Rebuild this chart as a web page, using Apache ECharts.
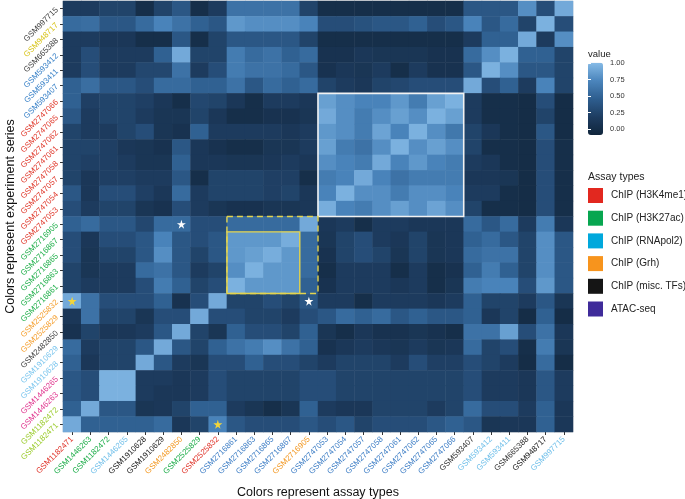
<!DOCTYPE html>
<html>
<head>
<meta charset="utf-8">
<script src="https://cdn.jsdelivr.net/npm/echarts@6/dist/echarts.min.js"></script>
<style>
html,body{margin:0;padding:0;background:#fff;}
#chart{width:685px;height:499px;}
</style>
</head>
<body>
<div id="chart"></div>
<script>
// ---------------- data ----------------
const xLabels = ['GSM1182471','GSM1446263','GSM1182472','GSM1446265','GSM1910628','GSM1910629','GSM2482850','GSM2525829','GSM2525832','GSM2716861','GSM2716863','GSM2716865','GSM2716867','GSM2716905','GSM2747053','GSM2747054','GSM2747057','GSM2747058','GSM2747061','GSM2747062','GSM2747065','GSM2747066','GSM593407','GSM593412','GSM593411','GSM665388','GSM948717','GSM997715'];
// rows listed from top to bottom
const yLabels = ['GSM997715','GSM948717','GSM665388','GSM593412','GSM593411','GSM593407','GSM2747066','GSM2747065','GSM2747062','GSM2747061','GSM2747058','GSM2747057','GSM2747054','GSM2747053','GSM2716905','GSM2716867','GSM2716865','GSM2716863','GSM2716861','GSM2525832','GSM2525829','GSM2482850','GSM1910629','GSM1910628','GSM1446265','GSM1446263','GSM1182472','GSM1182471'];

// label colour groups
const xLabelColors = ['#e0352b','#1fae4b','#1fae4b','#72c0ea','#222222','#222222','#f39a26','#1fae4b','#e0352b','#3f7fc6','#3f7fc6','#3f7fc6','#3f7fc6','#f39a26','#3f7fc6','#3f7fc6','#3f7fc6','#3f7fc6','#3f7fc6','#3f7fc6','#3f7fc6','#3f7fc6','#333333','#72c0ea','#72c0ea','#333333','#222222','#72c0ea'];
const yLabelColors = ['#444444','#d8c41c','#444444','#3a82c8','#3a82c8','#3a82c8','#e0392c','#e0392c','#e0392c','#e0392c','#e0392c','#e0392c','#e0392c','#e0392c','#22b04c','#22b04c','#22b04c','#22b04c','#22b04c','#f5a031','#f5a031','#444444','#7cc6ee','#7cc6ee','#e0358e','#e0358e','#9ccc2e','#9ccc2e'];

// matrix values, one row per yLabel (top to bottom), one column per xLabel
const row00 = [0.16,0.16,0.24,0.24,0.02,0.24,0.40,0.02,0.16,0.60,0.60,0.60,0.60,0.24,0.02,0.02,0.02,0.02,0.02,0.02,0.02,0.02,0.40,0.40,0.40,0.78,0.32,0.92];
const row01 = [0.55,0.57,0.40,0.40,0.55,0.72,0.60,0.48,0.40,0.83,0.78,0.78,0.78,0.72,0.32,0.32,0.36,0.40,0.40,0.48,0.32,0.40,0.72,0.40,0.55,0.24,0.96,0.32];
const row02 = [0.16,0.16,0.12,0.12,0.02,0.02,0.40,0.02,0.24,0.40,0.40,0.40,0.40,0.24,0.02,0.02,0.02,0.02,0.02,0.02,0.02,0.02,0.16,0.48,0.48,0.92,0.16,0.78];
const row03 = [0.16,0.32,0.16,0.16,0.16,0.48,0.92,0.24,0.24,0.67,0.55,0.60,0.48,0.55,0.06,0.06,0.12,0.10,0.10,0.10,0.06,0.06,0.55,0.78,0.96,0.48,0.48,0.24];
const row04 = [0.16,0.32,0.16,0.16,0.27,0.27,0.60,0.16,0.32,0.67,0.60,0.60,0.55,0.40,0.06,0.12,0.10,0.16,0.02,0.16,0.06,0.06,0.40,0.96,0.78,0.40,0.40,0.24];
const row05 = [0.48,0.57,0.40,0.40,0.32,0.55,0.55,0.48,0.48,0.60,0.40,0.55,0.48,0.55,0.24,0.16,0.12,0.24,0.27,0.32,0.32,0.32,0.92,0.32,0.48,0.16,0.72,0.24];
const row06 = [0.48,0.20,0.24,0.24,0.20,0.12,0.02,0.27,0.24,0.12,0.02,0.16,0.16,0.12,0.87,0.78,0.72,0.72,0.83,0.67,0.87,0.96,0.16,0.02,0.02,0.00,0.32,0.00];
const row07 = [0.40,0.16,0.24,0.24,0.16,0.10,0.10,0.24,0.12,0.02,0.02,0.06,0.06,0.10,0.92,0.78,0.67,0.78,0.87,0.78,0.96,0.87,0.16,0.02,0.02,0.00,0.24,0.00];
const row08 = [0.24,0.16,0.16,0.24,0.32,0.10,0.06,0.48,0.16,0.16,0.16,0.16,0.12,0.16,0.83,0.78,0.67,0.89,0.72,0.96,0.78,0.64,0.24,0.12,0.02,0.00,0.40,0.00];
const row09 = [0.24,0.24,0.20,0.12,0.10,0.06,0.40,0.12,0.06,0.02,0.02,0.10,0.10,0.16,0.87,0.67,0.60,0.78,0.96,0.78,0.87,0.78,0.24,0.02,0.02,0.00,0.32,0.02];
const row10 = [0.24,0.20,0.20,0.16,0.10,0.10,0.48,0.12,0.12,0.10,0.10,0.12,0.16,0.12,0.78,0.72,0.67,0.92,0.72,0.83,0.72,0.67,0.16,0.12,0.02,0.00,0.32,0.02];
const row11 = [0.24,0.12,0.20,0.20,0.16,0.16,0.40,0.02,0.24,0.24,0.24,0.20,0.20,0.02,0.67,0.72,0.92,0.72,0.60,0.67,0.67,0.67,0.12,0.12,0.10,0.00,0.32,0.02];
const row12 = [0.40,0.12,0.32,0.32,0.20,0.12,0.55,0.16,0.24,0.24,0.24,0.20,0.24,0.12,0.72,0.96,0.78,0.78,0.67,0.78,0.78,0.72,0.16,0.16,0.02,0.00,0.32,0.02];
const row13 = [0.32,0.16,0.24,0.24,0.10,0.06,0.32,0.16,0.10,0.06,0.06,0.10,0.10,0.12,0.94,0.72,0.67,0.78,0.87,0.78,0.89,0.78,0.24,0.02,0.02,0.00,0.32,0.02];
const row14 = [0.48,0.55,0.40,0.40,0.27,0.55,0.55,0.32,0.32,0.55,0.55,0.55,0.55,0.92,0.12,0.16,0.02,0.16,0.16,0.12,0.12,0.12,0.55,0.40,0.55,0.16,0.67,0.12];
const row15 = [0.32,0.12,0.32,0.32,0.40,0.72,0.40,0.32,0.40,0.83,0.83,0.83,0.94,0.55,0.10,0.24,0.32,0.16,0.12,0.24,0.10,0.12,0.48,0.55,0.40,0.24,0.78,0.40];
const row16 = [0.32,0.10,0.24,0.24,0.40,0.78,0.40,0.24,0.40,0.83,0.87,0.94,0.83,0.55,0.06,0.24,0.32,0.24,0.10,0.24,0.10,0.12,0.55,0.60,0.60,0.24,0.78,0.40];
const row17 = [0.24,0.10,0.16,0.16,0.55,0.60,0.40,0.16,0.24,0.78,0.96,0.83,0.83,0.55,0.02,0.16,0.16,0.16,0.02,0.16,0.02,0.06,0.48,0.67,0.48,0.24,0.78,0.40];
const row18 = [0.24,0.16,0.16,0.16,0.32,0.67,0.48,0.24,0.32,0.96,0.83,0.83,0.83,0.48,0.06,0.16,0.16,0.16,0.12,0.16,0.02,0.10,0.67,0.72,0.72,0.32,0.83,0.40];
const row19 = [0.92,0.60,0.32,0.32,0.32,0.48,0.06,0.32,0.92,0.24,0.24,0.32,0.24,0.40,0.16,0.16,0.02,0.16,0.16,0.16,0.12,0.16,0.48,0.24,0.24,0.16,0.40,0.10];
const row20 = [0.12,0.60,0.24,0.24,0.10,0.32,0.32,0.92,0.32,0.32,0.24,0.24,0.16,0.32,0.40,0.55,0.48,0.55,0.40,0.48,0.40,0.40,0.48,0.12,0.24,0.00,0.48,0.00];
const row21 = [0.06,0.24,0.12,0.12,0.16,0.40,0.92,0.24,0.10,0.48,0.32,0.32,0.24,0.48,0.10,0.02,0.12,0.06,0.06,0.10,0.06,0.02,0.60,0.60,0.87,0.32,0.60,0.12];
const row22 = [0.55,0.16,0.24,0.24,0.40,0.92,0.40,0.24,0.48,0.60,0.67,0.78,0.60,0.48,0.06,0.12,0.16,0.12,0.10,0.16,0.10,0.12,0.55,0.24,0.32,0.02,0.67,0.10];
const row23 = [0.48,0.12,0.24,0.24,0.92,0.40,0.16,0.10,0.32,0.32,0.48,0.32,0.32,0.24,0.16,0.24,0.24,0.24,0.16,0.32,0.20,0.20,0.32,0.24,0.16,0.00,0.55,0.00];
const row24 = [0.40,0.32,0.96,0.96,0.16,0.16,0.12,0.16,0.32,0.24,0.24,0.24,0.24,0.32,0.32,0.24,0.24,0.24,0.24,0.24,0.24,0.24,0.32,0.16,0.16,0.12,0.40,0.16];
const row25 = [0.40,0.32,0.96,0.96,0.16,0.12,0.12,0.16,0.32,0.24,0.24,0.24,0.24,0.32,0.32,0.24,0.24,0.24,0.24,0.24,0.24,0.24,0.32,0.16,0.16,0.12,0.40,0.16];
const row26 = [0.48,0.92,0.40,0.40,0.10,0.12,0.24,0.48,0.48,0.16,0.10,0.02,0.10,0.48,0.16,0.12,0.12,0.24,0.24,0.24,0.16,0.24,0.55,0.32,0.32,0.16,0.48,0.12];
const row27 = [0.92,0.48,0.48,0.48,0.48,0.55,0.12,0.24,0.72,0.40,0.32,0.32,0.32,0.40,0.32,0.40,0.24,0.32,0.32,0.32,0.40,0.48,0.40,0.10,0.12,0.12,0.48,0.12];
const matrixRows = [row00,row01,row02,row03,row04,row05,row06,row07,row08,row09,row10,row11,row12,row13,row14,row15,row16,row17,row18,row19,row20,row21,row22,row23,row24,row25,row26,row27];

const colorbarTicks = [0, 0.25, 0.5, 0.75, 1];
const assayTypes = ['ChIP (H3K4me1)','ChIP (H3K27ac)','ChIP (RNApol2)','ChIP (Grh)','ChIP (misc. TFs)','ATAC-seq'];
const assayColors = ['#e2281f','#07a650','#00a8dc','#f7941d','#151515','#3f2b9a'];

// highlighted blocks: [xFrom, yFrom, xTo, yTo]
const boxWhite = ['GSM2747053','GSM2747066','GSM2747066','GSM2747053'];
const boxYellowDashed = ['GSM2716861','GSM2716905','GSM2716905','GSM2716861'];
const boxYellowSolid = ['GSM2716861','GSM2716867','GSM2716867','GSM2716861'];
// stars: [x, y]
const starsWhite = [['GSM2482850','GSM2716905'],['GSM2716905','GSM2525832']];
const starsYellow = [['GSM1182471','GSM2525832'],['GSM2525832','GSM1182471']];

// ---------------- chart ----------------
const heatData = [];
matrixRows.forEach((row, j) => row.forEach((v, i) => heatData.push([i, j, v])));

const FONT = 'Liberation Sans, Arial, Helvetica, sans-serif';
const starPath = 'path://M50,0 L61,35 L98,35 L68,57 L79,91 L50,70 L21,91 L32,57 L2,35 L39,35 Z';

function boxItem(b) {
  return [xLabels.indexOf(b[0]), yLabels.indexOf(b[1]), xLabels.indexOf(b[2]), yLabels.indexOf(b[3])];
}
function makeRender(color, dashed, width) {
  return function (params, api) {
    const p0 = api.coord([api.value(0), api.value(1)]);
    const p1 = api.coord([api.value(2), api.value(3)]);
    const sz = api.size([1, 1]);
    const x0 = Math.min(p0[0], p1[0]) - sz[0] / 2;
    const x1 = Math.max(p0[0], p1[0]) + sz[0] / 2;
    const y0 = Math.min(p0[1], p1[1]) - sz[1] / 2;
    const y1 = Math.max(p0[1], p1[1]) + sz[1] / 2;
    return {
      type: 'rect',
      shape: { x: x0, y: y0, width: x1 - x0, height: y1 - y0 },
      style: { fill: null, stroke: color, lineWidth: width, lineDash: dashed ? [6, 4] : null }
    };
  };
}

const chart = echarts.init(document.getElementById('chart'));
const option = {
  animation: false,
  backgroundColor: '#ffffff',
  textStyle: { fontFamily: FONT },
  title: [
    { text: 'value', left: 588, top: 49, padding: 0, textStyle: { fontSize: 9.5, fontWeight: 'normal', color: '#222', fontFamily: FONT } },
    { text: 'Assay types', left: 588, top: 172, padding: 0, textStyle: { fontSize: 10.5, fontWeight: 'normal', color: '#222', fontFamily: FONT } }
  ],
  grid: [
    { left: 63, right: 112, top: 1, bottom: 67, show: true, borderColor: '#e4e4e4', borderWidth: 1, containLabel: false, outerBoundsMode: 'none' },
    { left: 588, top: 63.3, width: 15, height: 65.7, show: false, containLabel: false, outerBoundsMode: 'none' }
  ],
  xAxis: [
    {
      type: 'category', data: xLabels, gridIndex: 0,
      axisLine: { show: false },
      axisTick: { show: true, alignWithLabel: true, length: 3, lineStyle: { color: '#333' } },
      axisLabel: { rotate: 45, fontSize: 8, margin: 6, interval: 0, fontFamily: FONT,
        color: (v, i) => xLabelColors[i] },
      splitLine: { show: false },
      name: 'Colors represent assay types', nameLocation: 'middle', nameGap: 54, nameMoveOverlap: false,
      nameTextStyle: { fontSize: 12.5, color: '#111', fontFamily: FONT }
    },
    { type: 'value', gridIndex: 1, show: false }
  ],
  yAxis: [
    {
      type: 'category', data: yLabels, gridIndex: 0, inverse: true,
      axisLine: { show: false },
      axisTick: { show: true, alignWithLabel: true, length: 3, lineStyle: { color: '#333' } },
      axisLabel: { rotate: 45, fontSize: 8, margin: 6, interval: 0, fontFamily: FONT,
        color: (v, i) => yLabelColors[i] },
      splitLine: { show: false },
      name: 'Colors represent experiment series', nameLocation: 'middle', nameGap: 46, nameRotate: 90, nameMoveOverlap: false,
      nameTextStyle: { fontSize: 12.5, color: '#111', fontFamily: FONT }
    },
    {
      type: 'value', gridIndex: 1, min: 0, max: 1, interval: 0.25, position: 'right', z: 10,
      axisLine: { show: false },
      axisTick: { show: true, inside: true, length: 3, lineStyle: { color: '#ffffff', width: 1 } },
      axisLabel: { show: true, fontSize: 7.5, margin: 7, color: '#333', fontFamily: FONT,
        formatter: v => v.toFixed(2) },
      splitLine: { show: false }
    },
    {
      type: 'value', gridIndex: 1, min: 0, max: 1, interval: 0.25, position: 'left', z: 10,
      axisLine: { show: false },
      axisTick: { show: true, inside: true, length: 3, lineStyle: { color: '#ffffff', width: 1 } },
      axisLabel: { show: false },
      splitLine: { show: false }
    }
  ],
  visualMap: {
    type: 'continuous', min: -0.09, max: 1.01, seriesIndex: 0, calculable: false,
    orient: 'vertical', left: 588, top: 62.7, itemWidth: 15, itemHeight: 72.3, padding: 0,
    text: null, hoverLink: false,
    inRange: { color: ['#10253b', '#1e3d61', '#2e5e8f', '#4b85bc', '#86bbe7'] }
  },
  legend: {
    data: assayTypes, orient: 'vertical', left: 588, top: 188, itemWidth: 15, itemHeight: 15,
    itemGap: 7.7, icon: 'rect', padding: 0, selectedMode: false,
    textStyle: { fontSize: 10, color: '#222', fontFamily: FONT, padding: [0, 0, 0, 3] }
  },
  series: [
    {
      type: 'heatmap', data: heatData, xAxisIndex: 0, yAxisIndex: 0,
      itemStyle: { borderWidth: 0 }, emphasis: { disabled: true }, progressive: 0
    },
    { type: 'custom', xAxisIndex: 0, yAxisIndex: 0, data: [boxItem(boxWhite)], renderItem: makeRender('#f2f2f2', false, 1.6), z: 5 },
    { type: 'custom', xAxisIndex: 0, yAxisIndex: 0, data: [boxItem(boxYellowDashed)], renderItem: makeRender('#e3d44e', true, 1.4), z: 5 },
    { type: 'custom', xAxisIndex: 0, yAxisIndex: 0, data: [boxItem(boxYellowSolid)], renderItem: makeRender('#e3d44e', false, 1.4), z: 6 },
    { type: 'scatter', xAxisIndex: 0, yAxisIndex: 0, data: starsWhite, symbol: starPath, symbolSize: 9, itemStyle: { color: '#ffffff', opacity: 1 }, z: 7, silent: true },
    { type: 'scatter', xAxisIndex: 0, yAxisIndex: 0, data: starsYellow, symbol: starPath, symbolSize: 9, itemStyle: { color: '#f3d53a', opacity: 1 }, z: 7, silent: true }
  ].concat(assayTypes.map((name, k) => ({
    name: name, type: 'scatter', xAxisIndex: 0, yAxisIndex: 0, data: [], itemStyle: { color: assayColors[k], opacity: 1 }
  })))
};
chart.setOption(option);
</script>
</body>
</html>
